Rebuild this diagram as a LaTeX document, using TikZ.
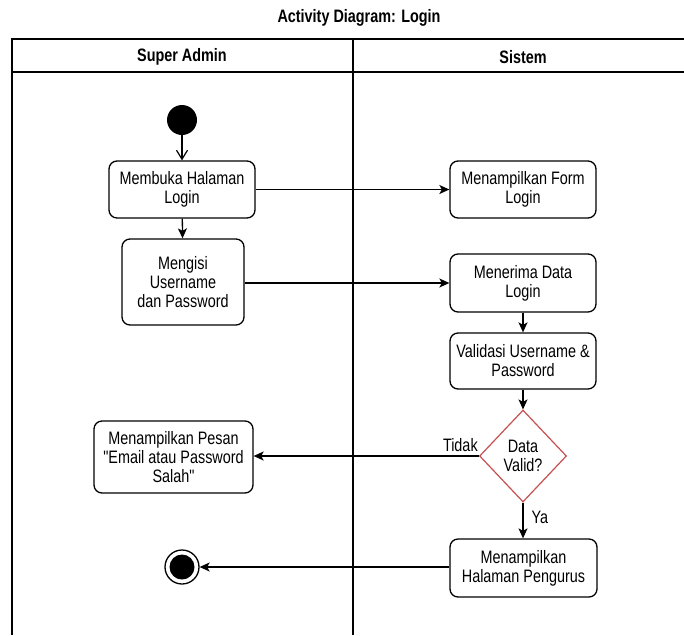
\documentclass[tikz,border=0pt]{standalone}
\usepackage{fontspec}
\setmainfont[FakeStretch=0.8]{Liberation Sans}
\newfontfamily\qfont[FakeStretch=0.8,Ligatures=TeXOff]{Liberation Sans}
\usetikzlibrary{arrows.meta,shapes.geometric}
\definecolor{decred}{RGB}{200,80,80}
\tikzset{
  txt/.style={font=\fontsize{18}{19}\selectfont},
  hdr/.style={font=\bfseries\fontsize{18}{19}\selectfont},
  act/.style={draw, line width=1.3pt, rounded corners=8pt, align=center, inner sep=0pt, txt, fill=white},
  arr/.style={draw, line width=1.3pt, -{Stealth[length=10pt,width=9pt,inset=2.5pt]}},
  lane/.style={line width=1.8pt},
}
\newcommand{\dq}{{\qfont"}}
\begin{document}
\begin{tikzpicture}[x=1pt,y=-1pt]
\useasboundingbox (0,0) rectangle (684,635);
\fill[white] (0,0) rectangle (684,635);
% swimlane frame
\draw[lane] (684,39) -- (12,39) -- (12,635);
\draw[lane] (12,72) -- (684,72);
\draw[lane] (353,39) -- (353,635);
\node[hdr] (title) at (359,18) {Activity Diagram: Login};
\node[hdr] (laneA) at (182,57) {Super Admin};
\node[hdr] (laneB) at (523,57) {Sistem};
% nodes
\node[circle, fill=black, minimum size=30pt, inner sep=0pt] (init) at (182,120) {};
\node[act, minimum width=146pt, minimum height=57pt] (b1) at (182,189.5) {Membuka Halaman\\Login};
\node[act, minimum width=122pt, minimum height=86pt] (b2) at (183,282) {Mengisi\\Username\\dan Password};
\node[act, minimum width=146pt, minimum height=57pt] (b3) at (523,189.5) {Menampilkan Form\\Login};
\node[act, minimum width=146pt, minimum height=58pt] (b4) at (523,283) {Menerima Data\\Login};
\node[act, minimum width=146pt, minimum height=56pt] (b5) at (523,361) {Validasi Username \&\\Password};
\node[diamond, draw=decred, line width=1.2pt, fill=white, minimum width=87pt, minimum height=92pt, inner sep=0pt, align=center, txt] (dec) at (523,456) {Data\\Valid?};
\node[act, minimum width=159pt, minimum height=72pt] (b6) at (173.5,457) {Menampilkan Pesan\\\dq Email atau Password\\Salah\dq};
\node[act, minimum width=147pt, minimum height=58pt] (b7) at (523.5,568) {Menampilkan\\Halaman Pengurus};
\node[circle, draw=black, line width=1.3pt, minimum size=34pt, inner sep=0pt] (fin) at (182,567) {};
\node[circle, fill=black, minimum size=25pt, inner sep=0pt] (finin) at (182,567) {};
% connectors
\draw[line width=1.2pt, -{Straight Barb[length=9pt,width=11pt]}] (init) -- (b1);
\draw[arr] (b1) -- (b2);
\draw[arr] (b1) -- (b3);
\draw[arr] (b2.east |- b4.west) -- (b4.west);
\draw[arr] (b4) -- (b5);
\draw[arr] (b5) -- (dec);
\draw[arr] (dec.west) -- (b6.east |- dec.west);
\node[txt, anchor=south east, inner sep=0pt] (tidak) at ([xshift=-1pt,yshift=4pt]dec.west) {Tidak};
\draw[arr] (dec.south) -- (b7.north -| dec.south);
\node[txt, anchor=west] (ya) at (528,517) {Ya};
\draw[arr] (b7.west |- fin.east) -- (fin.east);
\end{tikzpicture}
\end{document}
